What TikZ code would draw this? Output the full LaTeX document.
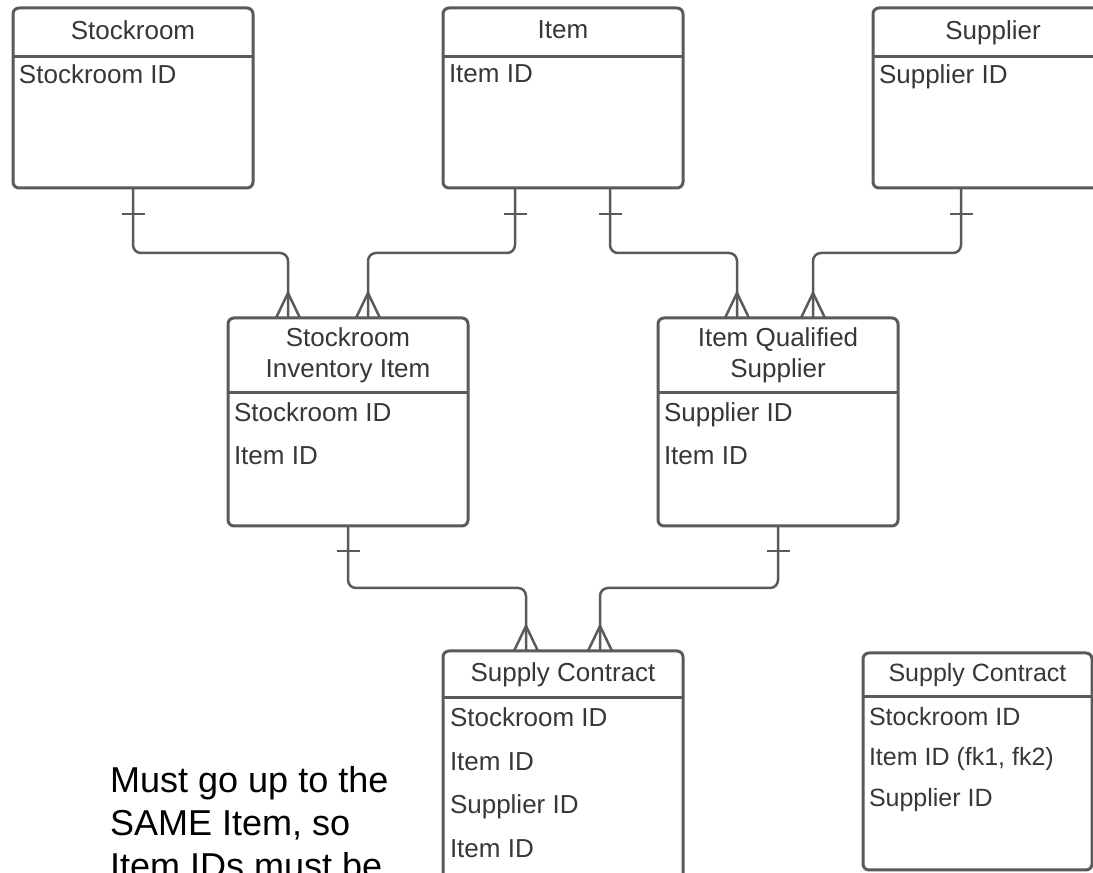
\documentclass[tikz,border=0pt]{standalone}
\usepackage{fontspec}
\setmainfont{Liberation Sans}
\usetikzlibrary{positioning}
\definecolor{LineGray}{RGB}{90,90,90}
\definecolor{TextGray}{RGB}{55,55,55}

\begin{document}
\begin{tikzpicture}[
    x=1pt, y=1pt,
    entity/.style={draw=LineGray, line width=3pt, rounded corners=6pt, fill=white, minimum width=240pt, inner sep=0pt, outer sep=0pt},
    head/.style={minimum width=240pt, inner sep=0pt, outer sep=0pt, align=center, text=TextGray, text depth=5.5pt, font=\fontsize{26}{31}\selectfont},
    attrs/.style={inner sep=0pt, outer sep=0pt, align=left, text=TextGray, font=\fontsize{26}{43.5}\selectfont},
    rule/.style={draw=LineGray, line width=3pt},
    link/.style={draw=LineGray, line width=2.5pt, rounded corners=8pt},
    note/.style={inner sep=0pt, align=left, font=\fontsize{36}{43}\selectfont},
    onemark/.pic={\draw[link, sharp corners] (-11.5,0) -- (11.5,0);},
    manymark/.pic={\draw[link, sharp corners] (-12,0) -- (0,25) -- (12,0);}
  ]
    \path[use as bounding box, clip] (0,0) rectangle (1093,873);

    \node[entity, minimum height=180pt] (stock) at (133,775) {};
    \node[entity, minimum height=180pt, right=190pt of stock] (item) {};
    \node[entity, minimum height=180pt, right=190pt of item] (supp) {};
    \node[entity, minimum height=208pt, below right=130pt and -25pt of stock] (sii) {};
    \node[entity, minimum height=208pt, right=190pt of sii] (iqs) {};
    \node[entity, minimum height=245pt, below right=125pt and -25pt of sii] (sc) {};
    \node[entity, minimum width=229pt, minimum height=217pt, below right=127pt and -35pt of iqs] (scfix) {};

    \node[head, minimum height=49pt, below=0pt of stock.north] (stockhead) {Stockroom};
    \node[head, minimum height=49pt, below=0pt of item.north] (itemhead) {Item};
    \node[head, minimum height=49pt, below=0pt of supp.north] (supphead) {Supplier};
    \node[head, minimum height=75pt, below=0pt of sii.north] (siihead) {Stockroom\\Inventory Item};
    \node[head, minimum height=75pt, below=0pt of iqs.north] (iqshead) {Item Qualified\\Supplier};
    \node[head, minimum height=47pt, below=0pt of sc.north] (schead) {Supply Contract};
    \node[head, minimum width=229pt, minimum height=44pt, font=\fontsize{25}{30}\selectfont, below=0pt of scfix.north] (scfixhead) {Supply Contract};

    \draw[rule] (stockhead.south west) -- (stockhead.south east);
    \draw[rule] (itemhead.south west) -- (itemhead.south east);
    \draw[rule] (supphead.south west) -- (supphead.south east);
    \draw[rule] (siihead.south west) -- (siihead.south east);
    \draw[rule] (iqshead.south west) -- (iqshead.south east);
    \draw[rule] (schead.south west) -- (schead.south east);
    \draw[rule] (scfixhead.south west) -- (scfixhead.south east);

    \node[attrs, below right=8pt and 6pt of stockhead.south west] (stockattr) {Stockroom ID};
    \node[attrs, below right=8pt and 6pt of itemhead.south west] (itemattr) {Item ID};
    \node[attrs, below right=8pt and 6pt of supphead.south west] (suppattr) {Supplier ID};
    \node[attrs, below right=9.5pt and 6pt of siihead.south west] (siiattr) {Stockroom ID\\Item ID};
    \node[attrs, below right=9.5pt and 6pt of iqshead.south west] (iqsattr) {Supplier ID\\Item ID};
    \node[attrs, below right=10pt and 7pt of schead.south west] (scattr) {Stockroom ID\\Item ID\\Supplier ID\\Item ID};
    \node[attrs, font=\fontsize{25}{40.5}\selectfont, below right=10pt and 6pt of scfixhead.south west] (scfixattr) {Stockroom ID\\Item ID (fk1, fk2)\\Supplier ID};

    \draw[link] (stock.south) -- ++(0,-26) pic{onemark} -- ++(0,-39) -| ([xshift=-60pt]sii.north) pic{manymark};
    \draw[link] ([xshift=-48pt]item.south) -- ++(0,-26) pic{onemark} -- ++(0,-39) -| ([xshift=20pt]sii.north) pic{manymark};
    \draw[link] ([xshift=47pt]item.south) -- ++(0,-26) pic{onemark} -- ++(0,-39) -| ([xshift=-41pt]iqs.north) pic{manymark};
    \draw[link] ([xshift=-32pt]supp.south) -- ++(0,-26) pic{onemark} -- ++(0,-39) -| ([xshift=35pt]iqs.north) pic{manymark};
    \draw[link] (sii.south) -- ++(0,-25) pic{onemark} -- ++(0,-37) -| ([xshift=-37pt]sc.north) pic{manymark};
    \draw[link] (iqs.south) -- ++(0,-25) pic{onemark} -- ++(0,-37) -| ([xshift=37pt]sc.north) pic{manymark};

    \node[note, anchor=north west] (remark) at (110,107) {Must go up to the\\SAME Item, so\\Item IDs must be};
  \end{tikzpicture}
\end{document}
